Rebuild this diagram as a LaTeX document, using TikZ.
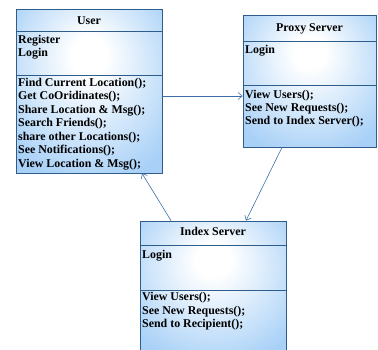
\documentclass[tikz,border=0pt]{standalone}
\usepackage{fontspec}
\setmainfont{Liberation Serif}
\usetikzlibrary{arrows.meta}
\definecolor{boxblue}{HTML}{A9D1F7}
\definecolor{edge}{HTML}{2E5D8C}
\definecolor{link}{HTML}{3D6DA6}
% soft white glow in the upper middle of each class box, fading to blue
\pgfdeclareradialshading{boxshade}{\pgfpoint{0bp}{12bp}}{color(0bp)=(white); color(6bp)=(white); color(34bp)=(boxblue); color(60bp)=(boxblue)}

\begin{document}
\begin{tikzpicture}[x=1pt,y=-1pt,
  umlbox/.style={rectangle, draw=edge, line width=0.8pt, shading=boxshade, inner sep=0pt},
  divider/.style={draw=edge, line width=0.8pt},
  member/.style={anchor=base west, inner sep=0pt, font=\bfseries\fontsize{11.9}{13}\selectfont},
  classname/.style={anchor=base, inner sep=0pt, font=\bfseries\fontsize{11.9}{13}\selectfont},
  assoc/.style={draw=link, line width=0.6pt, -{Straight Barb[length=4pt,width=7pt]}}]
\useasboundingbox (0,0) rectangle (378,349);
\clip (0,0) rectangle (378,349);

% ---- User ----
\node[umlbox, minimum width=146pt, minimum height=164pt] (user) at (89,91) {};
\draw[divider] (user.west |- 0,31) -- (user.east |- 0,31);
\draw[divider] (user.west |- 0,75) -- (user.east |- 0,75);
\node[classname] (usertitle) at (89,24) {User};
\node[member] (ua1) at (18,43) {Register};
\node[member] (ua2) at (18,56) {Login};
\foreach \t [count=\i] in {Find Current Location();, Get CoOridinates();,
    Share Location \& Msg();, Search Friends();, share other Locations();,
    See Notifications();, View Location \& Msg();}
  \node[member] (um\i) at (18,{86+13.5*(\i-1)}) {\t};

% ---- Proxy Server ----
\node[umlbox, minimum width=133pt, minimum height=132pt] (proxy) at (309.5,81) {};
\draw[divider] (proxy.west |- 0,41) -- (proxy.east |- 0,41);
\draw[divider] (proxy.west |- 0,85) -- (proxy.east |- 0,85);
\node[classname] (proxytitle) at (309.5,31) {Proxy Server};
\node[member] (pa1) at (245,53) {Login};
\foreach \t [count=\i] in {View Users();, See New Requests();, Send to Index Server();}
  \node[member] (pm\i) at (245,{98+13.3*(\i-1)}) {\t};

% ---- Index Server ----
\node[umlbox, minimum width=146pt, minimum height=136pt] (index) at (213,289) {};
\draw[divider] (index.west |- 0,245) -- (index.east |- 0,245);
\draw[divider] (index.west |- 0,290) -- (index.east |- 0,290);
\node[classname] (indextitle) at (213,235.5) {Index Server};
\node[member] (ia1) at (142,258) {Login};
\foreach \t [count=\i] in {View Users();, See New Requests();, Send to Recipient();}
  \node[member] (im\i) at (142,{300.5+13.7*(\i-1)}) {\t};

% ---- associations ----
\draw[assoc] ([yshift=-5pt]user.east) -- ([yshift=-5pt]user.east -| proxy.west);
\draw[assoc] ([xshift=-27.5pt]proxy.south) -- ([xshift=33pt]index.north);
\draw[assoc] ([xshift=-42pt]index.north) -- ([xshift=53pt]user.south);
\end{tikzpicture}
\end{document}
